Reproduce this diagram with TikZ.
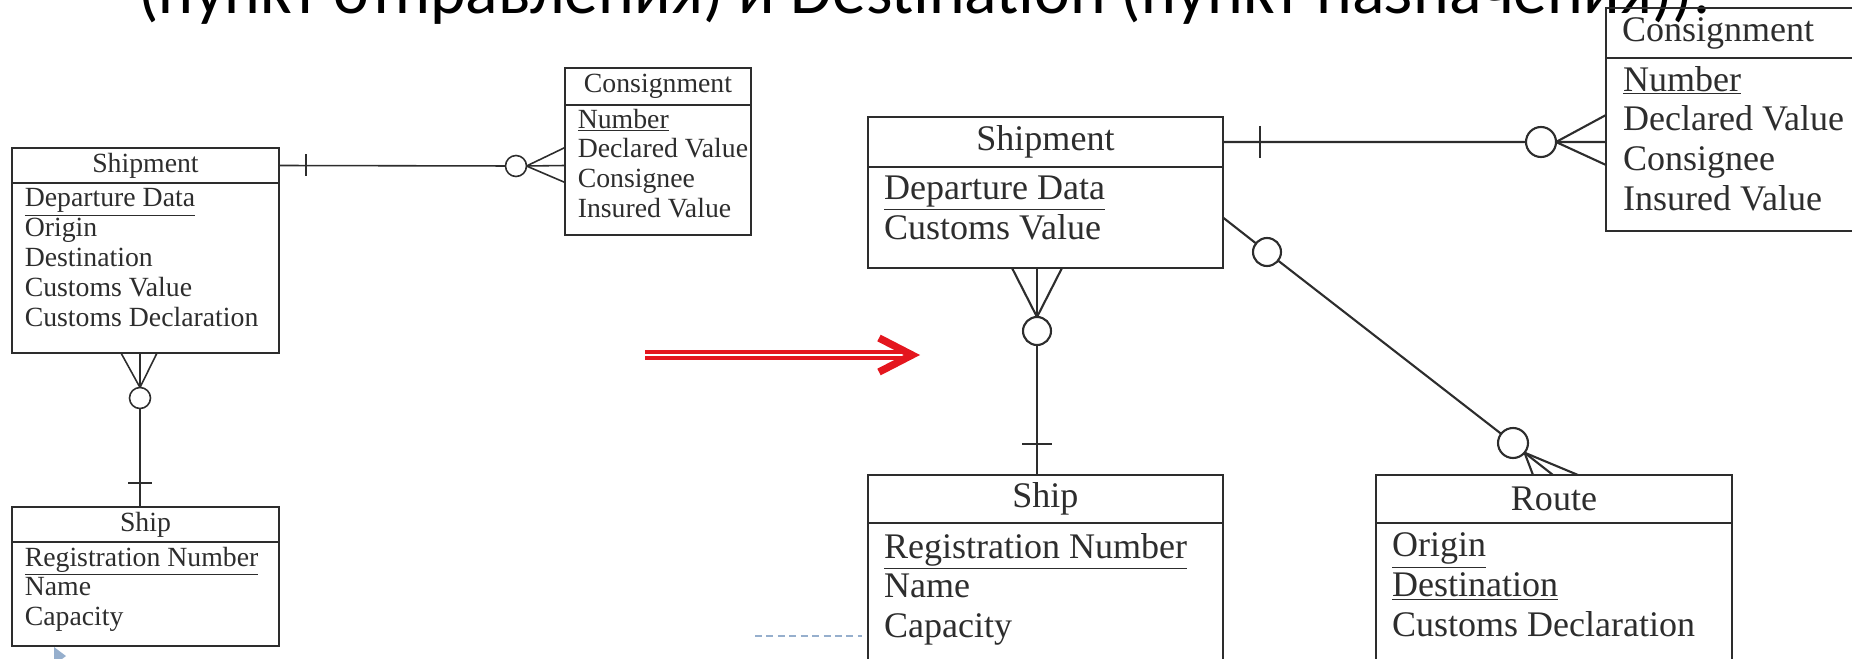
\documentclass[tikz,border=0pt]{standalone}
\usepackage{fontspec}
\setmainfont{Liberation Serif}
\newfontfamily\slidefont{Carlito}
\usetikzlibrary{calc}
\definecolor{ink}{RGB}{45,45,45}
\definecolor{arrred}{RGB}{228,22,30}
\definecolor{guide}{RGB}{150,175,205}
\newcommand{\entsmall}{\fontsize{15.8}{17}\selectfont}
\newcommand{\entbig}{\fontsize{20.5}{22.7}\selectfont}
\tikzset{
  entbox/.style={draw=ink, rectangle, outer sep=0pt, inner sep=0pt, text=ink, anchor=north west},
  attr/.style={anchor=north west, align=left, inner sep=0pt, text=ink},
  zero/.style={circle, draw=ink, fill=white, inner sep=0pt, outer sep=0pt},
}

\begin{document}
\begin{tikzpicture}[x=0.02cm, y=-0.02cm]
\useasboundingbox (0,0) rectangle (1852,659);
\clip (0,0) rectangle (1852,659);

% 顶部被截断的一行字
\node[anchor=base west, inner sep=0pt, font=\slidefont\fontsize{38.5}{40}\selectfont] (head) at (138,13)
  {(пункт отправления) и Destination (пункт назначения)).};

% 左边的图
\begin{scope}[every node/.append style={font=\entsmall}, draw=ink, line width=0.9pt]
\node[entbox, minimum width=5.34cm, minimum height=0.70cm] (lshipT) at (12,148) {Shipment};
\node[entbox, minimum width=5.34cm, minimum height=3.40cm] (lshipB) at (lshipT.south west) {};
\node[attr] (lshipA) at ($(lshipB.north west)+(12,5)$)
  {\underline{Departure Data}\\Origin\\Destination\\Customs Value\\Customs Declaration};

\node[entbox, minimum width=3.72cm, minimum height=0.74cm] (lconsT) at (565,68) {Consignment};
\node[entbox, minimum width=3.72cm, minimum height=2.60cm] (lconsB) at (lconsT.south west) {};
\node[attr] (lconsA) at ($(lconsB.north west)+(12,3)$)
  {\underline{Number}\\Declared Value\\Consignee\\Insured Value};

\node[entbox, minimum width=5.34cm, minimum height=0.70cm] (lshipsT) at (12,507) {Ship};
\node[entbox, minimum width=5.34cm, minimum height=2.08cm] (lshipsB) at (lshipsT.south west) {};
\node[attr] (lshipsA) at ($(lshipsB.north west)+(12,4)$)
  {\underline{Registration Number}\\Name\\Capacity};

\node[zero, minimum size=0.42cm] (lz1) at (516,166) {};
\draw (lshipT.east) -- (lz1);
\draw ($(lshipT.east)+(27,-11)$) -- ++(0,22); % 一
\foreach \dy in {-18,0,17} % 鸦爪
  \draw (lz1.east) -- ($(lconsB.west |- lshipT.east)+(0,\dy)$);

\node[zero, minimum size=0.42cm] (lz2) at (140,398) {};
\foreach \dx in {-19,0,17}
  \draw (lz2.north) -- ($(lz2.north |- lshipB.south)+(\dx,0)$);
\draw (lz2.south) -- (lz2.south |- lshipsT.north);
\draw ($(lz2.south |- lshipsT.north)+(-12,-24)$) -- ++(24,0);
\end{scope}

% 右边的图
\begin{scope}[every node/.append style={font=\entbig}, draw=ink, line width=1.2pt]
\node[entbox, minimum width=7.10cm, minimum height=1.00cm] (rshipT) at (868,117) {Shipment};
\node[entbox, minimum width=7.10cm, minimum height=2.02cm] (rshipB) at (rshipT.south west) {};
\node[attr] (rshipA) at ($(rshipB.north west)+(15,8)$)
  {\underline{Departure Data}\\Customs Value};

\node[entbox, minimum width=5.28cm, minimum height=1.00cm, text width=4.64cm, align=left,
      inner xsep=0.32cm] (rconsT) at (1606,8) {Consignment};
\node[entbox, minimum width=5.28cm, minimum height=3.46cm] (rconsB) at (rconsT.south west) {};
\node[attr] (rconsA) at ($(rconsB.north west)+(16,7)$)
  {\underline{Number}\\Declared Value\\Consignee\\Insured Value};

\node[entbox, minimum width=7.10cm, minimum height=0.96cm] (rshipsT) at (868,475) {Ship};
\node[entbox, minimum width=7.10cm, minimum height=3.20cm] (rshipsB) at (rshipsT.south west) {};
\node[attr] (rshipsA) at ($(rshipsB.north west)+(15,9)$)
  {\underline{Registration Number}\\Name\\Capacity};

\node[entbox, minimum width=7.12cm, minimum height=0.96cm] (routeT) at (1376,475) {Route};
\node[entbox, minimum width=7.12cm, minimum height=3.20cm] (routeB) at (routeT.south west) {};
\node[attr] (routeA) at ($(routeB.north west)+(15,9)$)
  {\underline{Origin}\\\underline{Destination}\\Customs Declaration};

\node[zero, minimum size=0.60cm] (rz1) at (1541,142) {};
\draw (rshipT.east) -- (rz1);
\draw ($(rshipT.east)+(37,-16)$) -- ++(0,32);
\foreach \dy in {-27,0,23}
  \draw (rz1.east) -- ($(rconsB.west |- rshipT.east)+(0,\dy)$);

\node[zero, minimum size=0.56cm] (rz2) at (1037,331) {};
\foreach \dx in {-25,0,25}
  \draw (rz2.north) -- ($(rz2.north |- rshipB.south)+(\dx,0)$);
\draw (rz2.south) -- (rz2.south |- rshipsT.north);
\draw ($(rz2.south |- rshipsT.north)+(-15,-31)$) -- ++(30,0);

\node[zero, minimum size=0.56cm] (rz3) at (1267,252) {};
\node[zero, minimum size=0.60cm] (rz4) at (1513,443) {};
\draw (rshipB.east) -- (rz3) -- (rz4);
\foreach \dx in {157,177,202}
  \draw (rz4.-40) -- ($(routeT.north west)+(\dx,0)$);
\end{scope}

% 红色箭头
\coordinate (arrS) at (645,355);
\coordinate (arrE) at (912,355);
\draw[arrred, line width=2pt, double=white, double distance=1.7pt] (arrS) -- ($(arrE)+(-8,0)$);
\draw[arrred, line width=4.2pt, line join=miter] ($(arrE)+(-33,-17)$) -- (arrE) -- ($(arrE)+(-33,17)$);

% 虚线和小三角
\coordinate (gdA) at (755,636);
\coordinate (gdB) at (862,636);
\draw[guide, line width=0.9pt, dash pattern=on 4pt off 2.5pt] (gdA) -- (gdB);
\fill[guide] (54,647) -- (66,656) -- (54,665) -- cycle;
\end{tikzpicture}
\end{document}
